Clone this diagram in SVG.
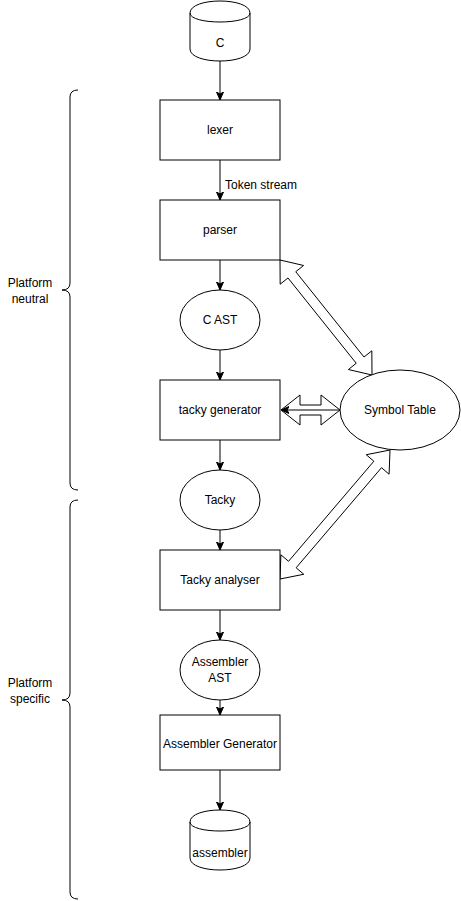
<svg xmlns="http://www.w3.org/2000/svg" width="461" height="901" viewBox="0 0 461 901">
  <style>
    .box { fill: #ffffff; stroke: #000000; stroke-width: 1; }
    .lbl { font-family: "Liberation Sans", Arial, Helvetica, sans-serif; font-size: 12px; fill: #000000; text-anchor: middle; }
    .edge { fill: none; stroke: #000000; stroke-width: 1; }
    .flex { fill: #ffffff; stroke: #000000; stroke-width: 1; stroke-linejoin: miter; }
    .brace { fill: none; stroke: #000000; stroke-width: 1; }
  </style>
  <defs>
    <marker id="arrow" markerUnits="userSpaceOnUse" viewBox="0 0 8 8" refX="8" refY="4" markerWidth="8" markerHeight="8" orient="auto">
      <path d="M0,0.5 L8,4 L0,7.5 L2,4 Z" fill="#000000" stroke="#000000" stroke-width="1"/>
    </marker>
  </defs>
  <rect width="461" height="901" fill="#ffffff"/>

  <!-- group braces -->
  <g id="brace-neutral">
    <path class="brace" d="M78,90 Q70,90 70,97 L70,283 Q70,290 62,290 Q70,290 70,297 L70,483 Q70,490 78,490"/>
    <text class="lbl" x="30" y="287">Platform</text>
    <text class="lbl" x="30" y="303">neutral</text>
  </g>
  <g id="brace-specific">
    <path class="brace" d="M78,500 Q70,500 70,507 L70,693 Q70,700 62,700 Q70,700 70,707 L70,892 Q70,899 78,899"/>
    <text class="lbl" x="30" y="687">Platform</text>
    <text class="lbl" x="30" y="703">specific</text>
  </g>

  <!-- connectors -->
  <g id="connectors">
    <line class="edge" x1="220" y1="61" x2="220" y2="100" marker-end="url(#arrow)"/>
    <line class="edge" x1="220" y1="160" x2="220" y2="200" marker-end="url(#arrow)"/>
    <text class="lbl" x="225" y="189" style="text-anchor:start">Token stream</text>
    <line class="edge" x1="220" y1="260" x2="220" y2="290" marker-end="url(#arrow)"/>
    <line class="edge" x1="220" y1="350" x2="220" y2="380" marker-end="url(#arrow)"/>
    <line class="edge" x1="220" y1="440" x2="220" y2="470" marker-end="url(#arrow)"/>
    <line class="edge" x1="220" y1="530" x2="220" y2="550" marker-end="url(#arrow)"/>
    <line class="edge" x1="220" y1="610" x2="220" y2="640" marker-end="url(#arrow)"/>
    <line class="edge" x1="220" y1="700" x2="220" y2="715" marker-end="url(#arrow)"/>
    <line class="edge" x1="220" y1="770" x2="220" y2="810" marker-end="url(#arrow)"/>

    <!-- symbol table links -->
    <polygon class="flex" points="280,260 280.16,284.21 287.97,277.96 356.23,363.28 348.42,369.53 372,375 371.84,350.79 364.03,357.04 295.77,271.72 303.58,265.47"/>
    <polygon class="flex" points="281,410 300,425 300,415 321,415 321,425 340,410 321,395 321,405 300,405 300,395"/>
    <line class="edge" x1="340" y1="410" x2="281" y2="410" marker-end="url(#arrow)"/>
    <polygon class="flex" points="280,579 303.74,574.27 296.13,567.78 381.47,467.70 389.08,474.19 390,450 366.26,454.73 373.87,461.22 288.53,561.30 280.92,554.81"/>
  </g>

  <!-- nodes -->
  <g id="src-c">
    <path class="box" d="M190,13 C190,-3 250,-3 250,13 L250,49 C250,65 190,65 190,49 Z"/>
    <path class="edge" d="M190,13 C190,25 250,25 250,13"/>
    <text class="lbl" x="220" y="47">C</text>
  </g>
  <g id="lexer">
    <rect class="box" x="160" y="100" width="120" height="60"/>
    <text class="lbl" x="220" y="134">lexer</text>
  </g>
  <g id="parser">
    <rect class="box" x="160" y="200" width="120" height="60"/>
    <text class="lbl" x="220" y="234">parser</text>
  </g>
  <g id="c-ast">
    <ellipse class="box" cx="220" cy="320" rx="40" ry="30"/>
    <text class="lbl" x="220" y="324">C AST</text>
  </g>
  <g id="tacky-generator">
    <rect class="box" x="160" y="380" width="120" height="60"/>
    <text class="lbl" x="220" y="414">tacky generator</text>
  </g>
  <g id="symbol-table">
    <ellipse class="box" cx="400" cy="410" rx="60" ry="40"/>
    <text class="lbl" x="400" y="414">Symbol Table</text>
  </g>
  <g id="tacky">
    <ellipse class="box" cx="220" cy="500" rx="40" ry="30"/>
    <text class="lbl" x="220" y="504">Tacky</text>
  </g>
  <g id="tacky-analyser">
    <rect class="box" x="160" y="550" width="120" height="60"/>
    <text class="lbl" x="220" y="584">Tacky analyser</text>
  </g>
  <g id="assembler-ast">
    <ellipse class="box" cx="220" cy="670" rx="40" ry="30"/>
    <text class="lbl" x="220" y="666">Assembler</text>
    <text class="lbl" x="220" y="682">AST</text>
  </g>
  <g id="assembler-generator">
    <rect class="box" x="160" y="715" width="120" height="55"/>
    <text class="lbl" x="220" y="748">Assembler Generator</text>
  </g>
  <g id="out-assembler">
    <path class="box" d="M190,822 C190,806 250,806 250,822 L250,858 C250,874 190,874 190,858 Z"/>
    <path class="edge" d="M190,822 C190,834 250,834 250,822"/>
    <text class="lbl" x="220" y="857">assembler</text>
  </g>
</svg>
